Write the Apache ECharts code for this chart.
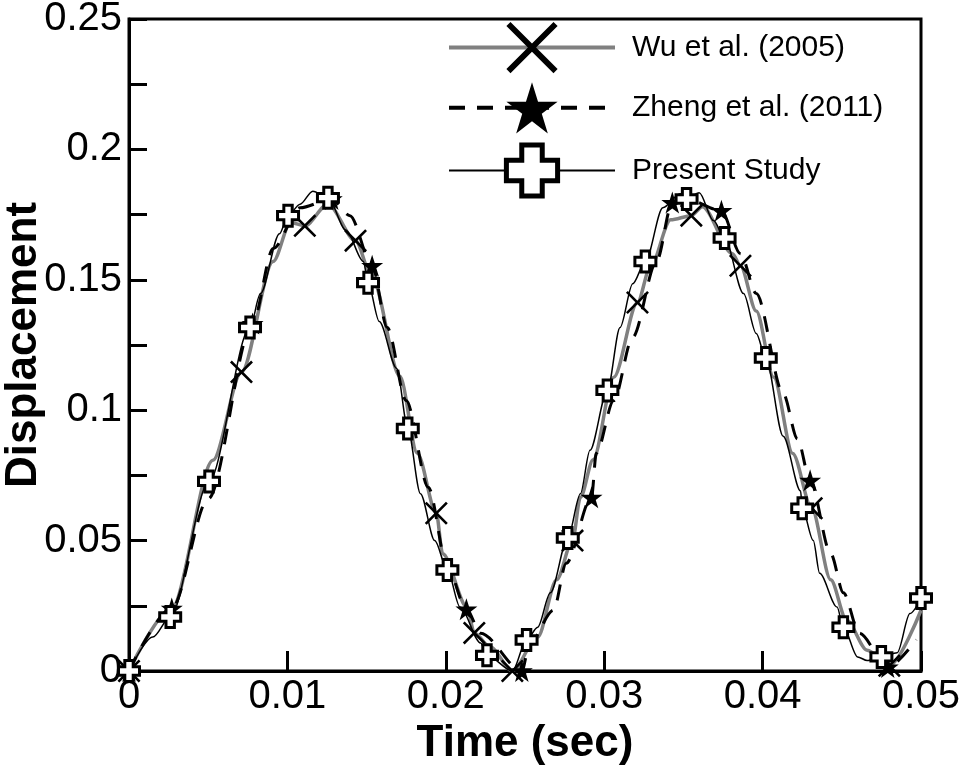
<!DOCTYPE html>
<html>
<head>
<meta charset="utf-8">
<script src="https://cdn.jsdelivr.net/npm/echarts@6/dist/echarts.min.js"></script>
<style>
html, body { margin: 0; padding: 0; background: #fff; }
#chart { width: 963px; height: 770px; }
</style>
</head>
<body>
<div id="chart"></div>
<script>
// Wu et al. (2005): marker points and extra points on the curve
const wuMarks = [[0, 0], [0.0071, 0.1146], [0.0111, 0.1707], [0.0143, 0.165], [0.0194, 0.0605],
  [0.0218, 0.0146], [0.0242, 0], [0.028, 0.05], [0.0321, 0.1413], [0.0355, 0.1746],
  [0.0386, 0.1554], [0.0431, 0.0624], [0.048, 0.002]]
const wuCurve = [[0.0027, 0.024], [0.0053, 0.0808], [0.0091, 0.157], [0.0102, 0.172], [0.01256, 0.179],
  [0.0154, 0.1497], [0.0171, 0.113], [0.0182, 0.0835], [0.0198, 0.045], [0.02134, 0.0245],
  [0.0228, 0.0092], [0.0258, 0.013], [0.027, 0.035], [0.0285, 0.0666], [0.0293, 0.081],
  [0.0306, 0.1126], [0.0329, 0.1547], [0.0342, 0.173], [0.0362, 0.178], [0.0381, 0.16],
  [0.0396, 0.138], [0.0407, 0.1126], [0.0419, 0.0834], [0.0443, 0.035], [0.0453, 0.0195],
  [0.0466, 0.008], [0.05, 0.0233]]

// Zheng et al. (2011)
const zhengMarks = [[0, 0], [0.0027, 0.024], [0.0078, 0.1332], [0.0128, 0.181], [0.01535, 0.1554],
  [0.0213, 0.0237], [0.0248, 0], [0.0292, 0.0666], [0.0343, 0.1796], [0.0374, 0.1765],
  [0.043, 0.0731], [0.0479, 0.0015]]
const zhengCurve = [[0.005, 0.066], [0.0091, 0.162], [0.0108, 0.1776], [0.01395, 0.1746], [0.0163, 0.1317],
  [0.0175, 0.1037], [0.0189, 0.0704], [0.0201, 0.0398], [0.0222, 0.0145], [0.0253, 0.0107],
  [0.0268, 0.0233], [0.0276, 0.0413], [0.0295, 0.0835], [0.0306, 0.1037], [0.0318, 0.128],
  [0.0333, 0.157], [0.0352, 0.181], [0.0386, 0.16], [0.0396, 0.1447], [0.0413, 0.1064],
  [0.0422, 0.089], [0.0443, 0.045], [0.0451, 0.03], [0.0461, 0.0145], [0.0497, 0.012]]

// Present Study
const presentMarks = [[0, 0], [0.0026, 0.0207], [0.00505, 0.0727], [0.00764, 0.1317], [0.01004, 0.1746],
  [0.01256, 0.1815], [0.01509, 0.1489], [0.0176, 0.093], [0.0201, 0.0387], [0.0226, 0.006],
  [0.0251, 0.0119], [0.0277, 0.051], [0.0302, 0.1076], [0.0326, 0.157], [0.0352, 0.181],
  [0.0376, 0.166], [0.0402, 0.12], [0.0425, 0.0624], [0.0451, 0.0168], [0.0475, 0.0054],
  [0.05, 0.028]]
const presentCurve = [[0.0015, 0.013], [0.0083, 0.1447], [0.0095, 0.1677], [0.0108, 0.179], [0.0116, 0.184],
  [0.0137, 0.169], [0.0148, 0.157], [0.0158, 0.134], [0.0169, 0.116], [0.0184, 0.068],
  [0.0193, 0.05], [0.0209, 0.0245], [0.0222, 0.0107], [0.0242, 0], [0.0258, 0.0168],
  [0.0266, 0.03], [0.0285, 0.068], [0.0291, 0.0846], [0.031, 0.1317], [0.0318, 0.1485],
  [0.0337, 0.1776], [0.0348, 0.183], [0.036, 0.1834], [0.0369, 0.1727], [0.0388, 0.1447],
  [0.0396, 0.1294], [0.0413, 0.09], [0.0424, 0.069], [0.0432, 0.05], [0.0436, 0.0375],
  [0.0447, 0.0245], [0.046, 0.0054], [0.0466, 0.004], [0.0485, 0.007], [0.0493, 0.022]]

const seriesNames = ['Wu et al. (2005)', 'Zheng et al. (2011)', 'Present Study']

const crossPath = 'path://M0,8 L8,0 L50,42 L92,0 L100,8 L58,50 L100,92 L92,100 L50,58 L8,100 L0,92 L42,50 Z'
const starPath = 'path://M50,0 L61.8,36.2 L100,36.2 L69.1,58.8 L80.9,95.1 L50,72.7 L19.1,95.1 L30.9,58.8 L0,36.2 L38.2,36.2 Z'
const plusPath = 'path://M30,0 L70,0 L70,30 L100,30 L100,70 L70,70 L70,100 L30,100 L30,70 L0,70 L0,30 L30,30 Z'

const font = 'Liberation Sans, Arial, sans-serif'

// merge curve and marker points; only marker points get a symbol
function buildData(marks, curve) {
  const pts = marks.map(p => ({ value: p, mark: true }))
    .concat(curve.map(p => ({ value: p, mark: false })))
  pts.sort((a, b) => a.value[0] - b.value[0])
  return pts.map(p => p.mark ? { value: p.value } : { value: p.value, symbol: 'none' })
}

const chart = echarts.init(document.getElementById('chart'))

const option = {
  animation: false,
  backgroundColor: '#fff',
  grid: {
    left: 129, right: 42, top: 19, bottom: 99,
    outerBoundsMode: 'none',
    containLabel: false,
    show: true, borderColor: '#000', borderWidth: 3
  },
  legend: {
    orient: 'vertical',
    left: 447,
    top: 22,
    padding: 0,
    itemWidth: 166,
    itemHeight: 64,
    itemGap: 9,
    textStyle: { fontFamily: font, fontSize: 30, color: '#000', padding: [0, 0, 0, 12] },
    data: [
      { name: seriesNames[0], lineStyle: { width: 4 } },
      { name: seriesNames[1], lineStyle: { width: 4 } },
      { name: seriesNames[2], lineStyle: { width: 2 }, itemStyle: { borderWidth: 5 } }
    ]
  },
  xAxis: {
    type: 'value',
    min: 0, max: 0.05, interval: 0.01,
    name: 'Time (sec)',
    nameLocation: 'middle',
    nameGap: 51,
    nameMoveOverlap: false,
    nameTextStyle: { fontFamily: font, fontSize: 44, fontWeight: 'bold', color: '#000' },
    axisLine: { lineStyle: { color: '#000', width: 3 } },
    axisTick: { inside: true, length: 20, lineStyle: { color: '#000', width: 3 } },
    axisLabel: {
      fontFamily: font, fontSize: 40, color: '#000', margin: 6,
      formatter: v => String(+v.toFixed(3))
    },
    splitLine: { show: false }
  },
  yAxis: {
    type: 'value',
    min: 0, max: 0.25, interval: 0.025,
    name: 'Displacement',
    nameLocation: 'middle',
    nameGap: 83,
    nameMoveOverlap: false,
    nameTextStyle: { fontFamily: font, fontSize: 44, fontWeight: 'bold', color: '#000' },
    axisLine: { show: true, lineStyle: { color: '#000', width: 3 } },
    axisTick: { show: true, inside: true, length: 18, lineStyle: { color: '#000', width: 3 } },
    axisLabel: {
      fontFamily: font, fontSize: 40, color: '#000', margin: 7,
      formatter: v => (Math.round(v * 1000) % 50 === 0 ? String(+v.toFixed(3)) : '')
    },
    splitLine: { show: false }
  },
  series: [
    {
      name: seriesNames[0],
      type: 'line',
      data: buildData(wuMarks, wuCurve),
      smooth: 0.3,
      smoothMonotone: 'x',
      symbol: crossPath,
      symbolSize: 23,
      itemStyle: { color: '#000' },
      lineStyle: { color: '#808080', width: 3.5 },
      z: 2
    },
    {
      name: seriesNames[1],
      type: 'line',
      data: buildData(zhengMarks, zhengCurve),
      smooth: 0.3,
      smoothMonotone: 'x',
      symbol: starPath,
      symbolSize: 22,
      itemStyle: { color: '#000' },
      lineStyle: { color: '#000', width: 3, type: [16, 12] },
      z: 3
    },
    {
      name: seriesNames[2],
      type: 'line',
      data: buildData(presentMarks, presentCurve),
      smooth: 0.3,
      smoothMonotone: 'x',
      symbol: plusPath,
      symbolSize: 21,
      itemStyle: { color: '#fff', borderColor: '#000', borderWidth: 3 },
      lineStyle: { color: '#000', width: 1.5 },
      z: 4
    }
  ]
}

chart.setOption(option)
</script>
</body>
</html>
